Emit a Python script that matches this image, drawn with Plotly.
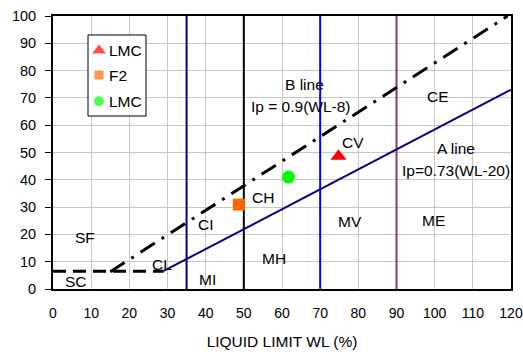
import plotly.graph_objects as go

# Data
pt_names = ["LMC", "F2", "LMC"]
pt_wl = [74.8, 48.7, 61.7]
pt_ip = [48.6, 30.9, 41.0]
pt_symbols = ["triangle-up", "square", "circle"]
pt_colors = ["#FF0000", "#FF6600", "#00FF00"]
pt_sizes = [14, 12, 13]

a_wl = [29, 120]
a_ip = [6.6, 73]
b_wl = [15, 119.1]
b_ip = [6.3, 100]
h_wl = [0, 29]
h_ip = [6.5, 6.5]

v_wl = [35, 50, 70, 90]
v_colors = ["#000080", "#000000", "#0000FF", "#993366"]

labels = ["SF", "SC", "CL", "CI", "MI", "MH", "CH", "MV", "ME", "CV", "CE",
          "B line", "Ip = 0.9(WL-8)", "A line", "Ip=0.73(WL-20)"]
label_wl = [8.3, 6.1, 28.6, 40.2, 40.4, 57.8, 54.9, 77.9, 99.7, 78.5, 100.8,
            65.9, 64.9, 105.6, 105.6]
label_ip = [18.8, 2.8, 8.9, 23.5, 3.4, 11.1, 33.4, 24.7, 25.1, 53.5, 70.5,
            74.8, 66.9, 51.3, 43.4]

FONT = "Liberation Sans, Arial, sans-serif"

# Plot area in pixels (for the hand-made legend box)
W, H = 523, 352
ML, MR, MT, MB = 53, 12, 16, 63
PW, PH = W - ML - MR, H - MT - MB


def px_x(p):
    return (p - ML) / PW


def px_y(p):
    return (H - MB - p) / PH


fig = go.Figure()

for x, c in zip(v_wl, v_colors):
    fig.add_trace(go.Scatter(x=[x, x], y=[0, 100], mode="lines",
                             line=dict(color=c, width=2), showlegend=False,
                             hoverinfo="skip"))

fig.add_trace(go.Scatter(x=h_wl, y=h_ip, mode="lines",
                         line=dict(color="black", width=3, dash="13px,7px"),
                         showlegend=False, hoverinfo="skip"))
fig.add_trace(go.Scatter(x=b_wl, y=b_ip, mode="lines",
                         line=dict(color="black", width=3, dash="17px,8px,3px,8px"),
                         showlegend=False, hoverinfo="skip"))
fig.add_trace(go.Scatter(x=a_wl, y=a_ip, mode="lines",
                         line=dict(color="#000080", width=2),
                         showlegend=False, hoverinfo="skip"))

for n, x, y, s, c, sz in zip(pt_names, pt_wl, pt_ip, pt_symbols, pt_colors, pt_sizes):
    fig.add_trace(go.Scatter(x=[x], y=[y], mode="markers", name=n,
                             showlegend=False,
                             marker=dict(symbol=s, color=c, size=sz,
                                         line=dict(width=0))))

# Hand-made legend (overlay axes in plot-fraction units)
bx0, bx1 = px_x(88), px_x(146)
by0, by1 = px_y(116), px_y(35)
fig.add_trace(go.Scatter(x=[bx0, bx1, bx1, bx0, bx0], y=[by0, by0, by1, by1, by0],
                         mode="lines", fill="toself", fillcolor="white",
                         line=dict(color="black", width=1),
                         xaxis="x2", yaxis="y2", showlegend=False, hoverinfo="skip"))
leg_py = [50.5, 75, 101.3]
leg_sizes = [12, 9, 10]
fig.add_trace(go.Scatter(x=[px_x(99)] * 3, y=[px_y(p) for p in leg_py],
                         mode="markers", xaxis="x2", yaxis="y2", showlegend=False,
                         hoverinfo="skip",
                         marker=dict(symbol=pt_symbols, color=pt_colors,
                                     size=leg_sizes, line=dict(width=0))))
for n, p in zip(pt_names, leg_py):
    fig.add_annotation(x=px_x(107), y=px_y(p), xref="x2", yref="y2", text=n,
                       showarrow=False, xanchor="left",
                       font=dict(family=FONT, size=15.5, color="black"))

for t, x, y in zip(labels, label_wl, label_ip):
    fig.add_annotation(x=x, y=y, text=t, showarrow=False,
                       font=dict(family=FONT, size=15.5, color="black"))

fig.update_layout(
    width=W, height=H,
    margin=dict(l=ML, r=MR, t=MT, b=MB, autoexpand=False),
    paper_bgcolor="white", plot_bgcolor="white",
    font=dict(family=FONT, size=14, color="black"),
    showlegend=False,
    xaxis=dict(range=[0, 120], dtick=10, showgrid=True, gridcolor="#C8C8C8",
               gridwidth=1, showline=True, linecolor="black", linewidth=2,
               mirror=True, ticks="", zeroline=False, ticklabelstandoff=10,
               automargin=False, ticklabeloverflow="allow",
               title=dict(text="LIQUID LIMIT WL (%)", standoff=16,
                          font=dict(family=FONT, size=15.5)),
               tickfont=dict(family=FONT, size=14)),
    yaxis=dict(range=[0, 100], dtick=10, showgrid=True, gridcolor="#C8C8C8",
               gridwidth=1, showline=True, linecolor="black", linewidth=2,
               mirror=True, ticks="outside", ticklen=6, tickcolor="black",
               zeroline=False, ticklabelstandoff=6, automargin=False,
               ticklabeloverflow="allow",
               tickfont=dict(family=FONT, size=14.5)),
    xaxis2=dict(range=[0, 1], overlaying="x", visible=False, fixedrange=True),
    yaxis2=dict(range=[0, 1], overlaying="y", visible=False, fixedrange=True),
)

fig.write_html("out.html")
